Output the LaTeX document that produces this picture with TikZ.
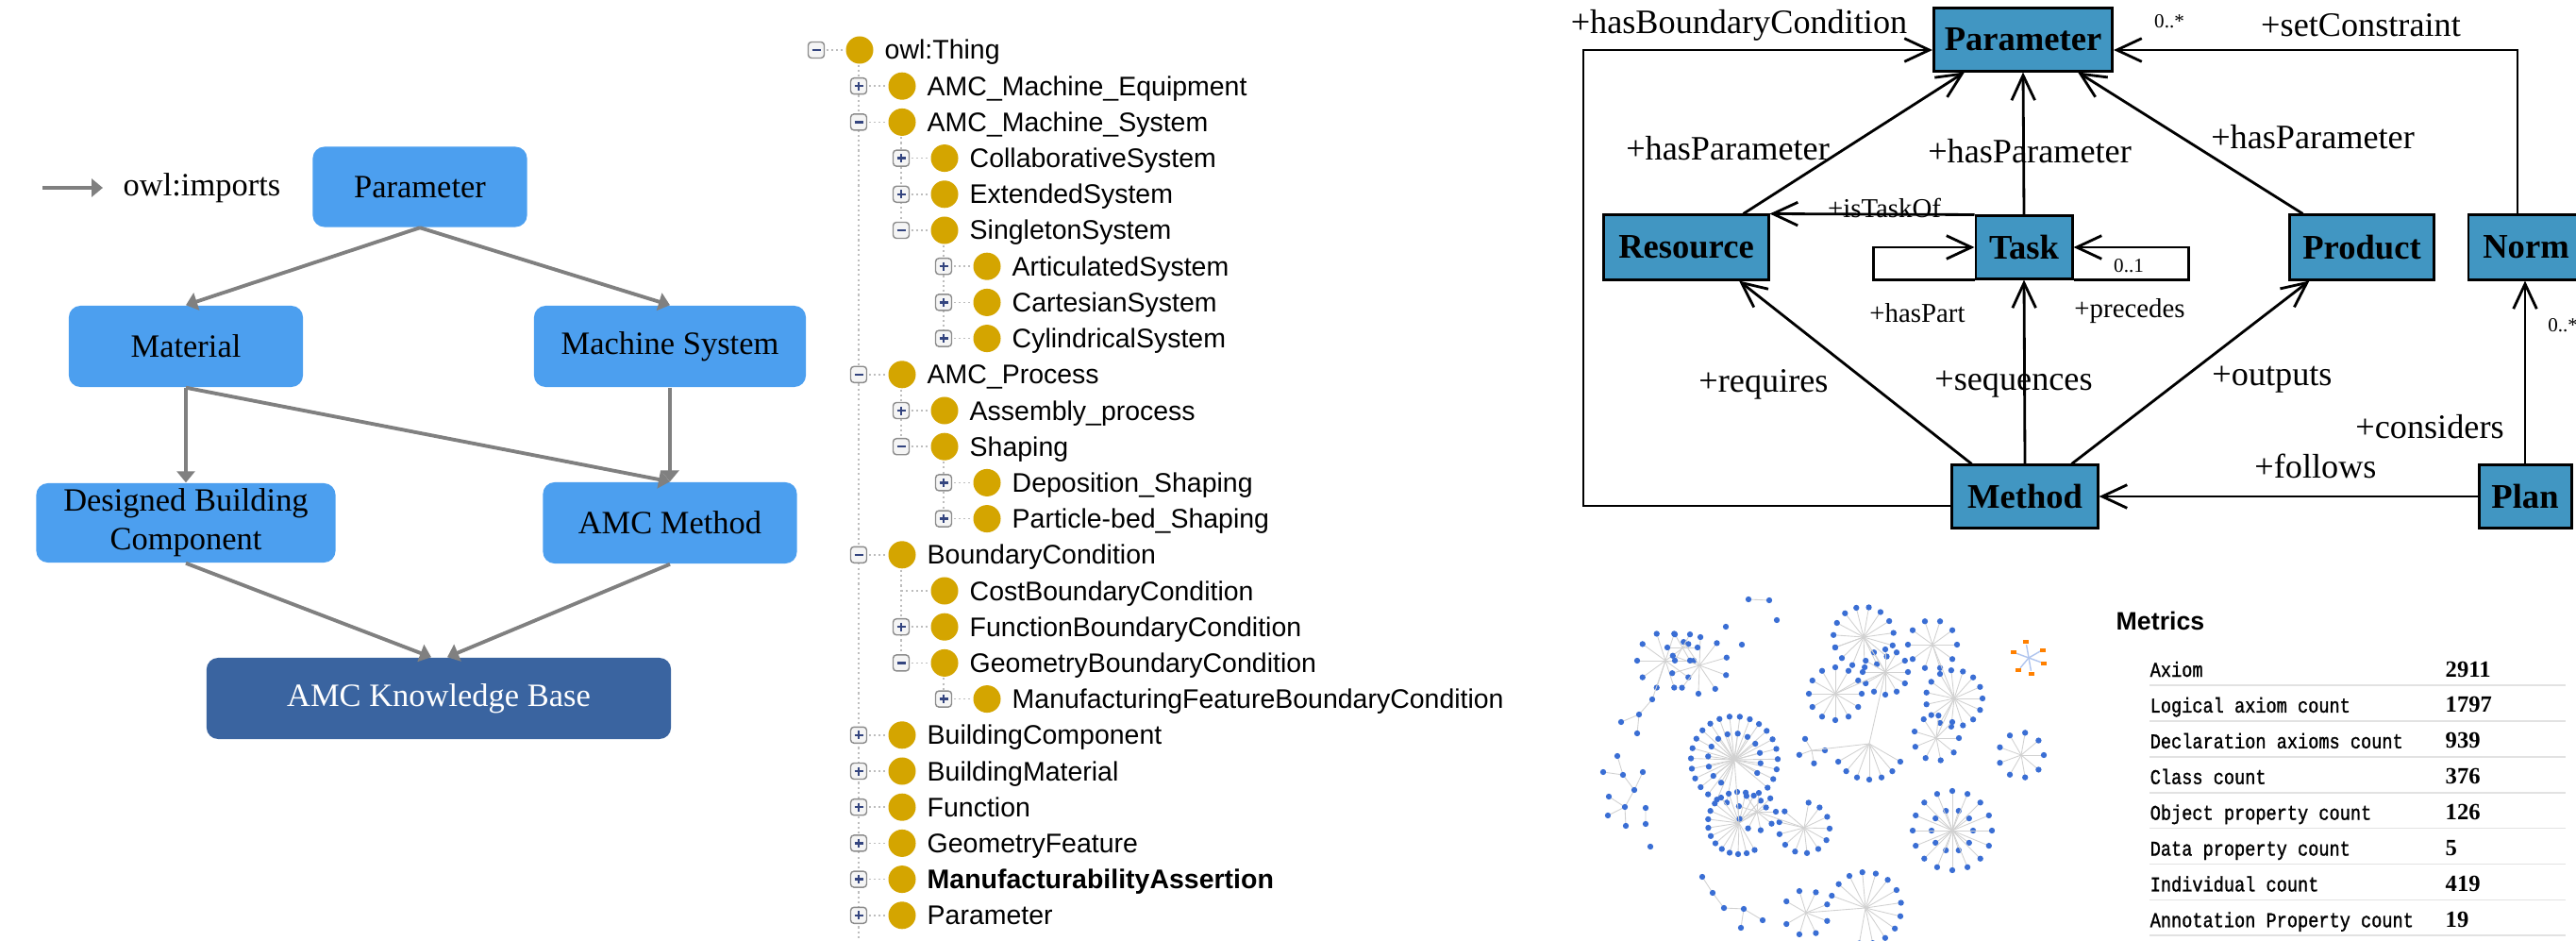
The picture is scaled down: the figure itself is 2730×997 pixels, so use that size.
\documentclass[tikz,border=0pt]{standalone}
\usepackage{fontspec}
\setmainfont{Liberation Serif}
\setsansfont{Liberation Sans}
\newfontfamily\metfont[FakeStretch=0.84,FakeBold=1.2]{Liberation Mono}
\usetikzlibrary{arrows.meta,positioning,calc}
\definecolor{lightbox}{HTML}{4C9FEF}
\definecolor{kbbox}{HTML}{3A64A0}
\definecolor{umlbox}{HTML}{4196C2}
\definecolor{owlgold}{HTML}{D4A500}
\definecolor{dotblue}{HTML}{3A6ED4}
\definecolor{impgray}{HTML}{808080}
\definecolor{treegray}{HTML}{BDBDBD}
\definecolor{signblue}{HTML}{34457F}
\definecolor{sepgray}{HTML}{E2E2E2}

\begin{document}
\begin{tikzpicture}[x=0.01cm, y=-0.01cm,
  lbox/.style={fill=lightbox, rounded corners=3.5pt, align=center, inner sep=0pt,
               font=\fontsize{9.8}{11.6}\selectfont},
  imp/.style={-{Triangle[length=3.4pt,width=5.4pt]}, impgray, line width=1.1pt},
  tog/.style={draw=black!45, fill=black!4, rounded corners=1pt, minimum size=0.17cm, inner sep=0pt},
  owl/.style={circle, fill=owlgold, minimum size=0.29cm, inner sep=0pt},
  tlabel/.style={font=\sffamily\fontsize{8.1}{9}\selectfont, inner sep=0pt, anchor=base west},
  tdot/.style={treegray, line width=0.5pt, dash pattern=on 0.6pt off 0.9pt},
  ubox/.style={draw=black, fill=umlbox, line width=0.85pt, inner sep=0pt,
               font=\fontsize{10.4}{12}\selectfont\bfseries},
  uarr/.style={-{Straight Barb[length=7.5pt,width=7pt]}, line width=0.8pt},
  ulab/.style={font=\fontsize{10.3}{12}\selectfont, inner sep=1pt},
  usmall/.style={font=\fontsize{8.2}{10}\selectfont, inner sep=1pt},
  umult/.style={font=\fontsize{6}{7}\selectfont, inner sep=1pt},
  gedge/.style={draw=black!18, line width=0.25pt},
  mlab/.style={font=\metfont\fontsize{6.3}{7.5}\selectfont, inner sep=0pt, anchor=base west},
  mval/.style={font=\fontsize{7}{8}\selectfont\bfseries, inner sep=0pt, anchor=base west}]

  \useasboundingbox (0,0) rectangle (2730,997);

  % import structure of the knowledge base
  \coordinate (lgA) at (45,199);
  \coordinate (lgB) at (109,199);
  \draw[imp] (lgA) -- (lgB);
  \node[anchor=west, inner sep=0pt, font=\fontsize{9.8}{11.6}\selectfont] (lgT) at (130,199) {owl:imports};

  \node[lbox, minimum width=2.27cm, minimum height=0.85cm] (par) at (445,198) {Parameter};
  \node[lbox, minimum width=2.48cm, minimum height=0.86cm] (mat) at (197,367) {Material};
  \node[lbox, minimum width=2.88cm, minimum height=0.86cm] (msys) at (710,367) {Machine System};
  \node[lbox, minimum width=3.17cm, minimum height=0.84cm] (dbc) at (197,554) {Designed Building\\Component};
  \node[lbox, minimum width=2.69cm, minimum height=0.86cm] (amcm) at (710,554) {AMC Method};
  \node[lbox, fill=kbbox, text=white, minimum width=4.92cm, minimum height=0.86cm] (kb) at (465,740) {AMC Knowledge Base};

  \draw[imp] (par.south) -- (mat.north);
  \draw[imp] (par.south) -- (msys.north);
  \draw[imp] (mat.south) -- (dbc.north);
  \draw[imp] (mat.south) -- (amcm.north);
  \draw[imp] (msys.south) -- (amcm.north);
  \draw[imp] (dbc.south) -- ($(kb.north)+(-8,0)$);
  \draw[imp] (amcm.south) -- ($(kb.north)+(9,0)$);

  % class hierarchy
  \foreach \lv/\a/\b in {1/0/26, 2/2/5, 2/9/11, 2/14/17, 3/5/8, 3/11/13, 3/17/18}
    \draw[tdot] (865+45*\lv, 53+38.2*\a) -- (865+45*\lv, 53+38.2*\b);
  \foreach \i/\lv/\tg/\t in {0/0/2/owl:Thing, 1/1/1/AMC\_Machine\_Equipment,
      2/1/2/AMC\_Machine\_System, 3/2/1/CollaborativeSystem, 4/2/1/ExtendedSystem,
      5/2/2/SingletonSystem, 6/3/1/ArticulatedSystem, 7/3/1/CartesianSystem,
      8/3/1/CylindricalSystem, 9/1/2/AMC\_Process, 10/2/1/Assembly\_process,
      11/2/2/Shaping, 12/3/1/Deposition\_Shaping, 13/3/1/Particle-bed\_Shaping,
      14/1/2/BoundaryCondition, 15/2/0/CostBoundaryCondition,
      16/2/1/FunctionBoundaryCondition, 17/2/2/GeometryBoundaryCondition,
      18/3/1/ManufacturingFeatureBoundaryCondition, 19/1/1/BuildingComponent,
      20/1/1/BuildingMaterial, 21/1/1/Function, 22/1/1/GeometryFeature,
      23/1/1/{\bfseries ManufacturabilityAssertion}, 24/1/1/Parameter} {
    \pgfmathsetmacro\ty{53+38.2*\i}
    \pgfmathsetmacro\tx{865+45*\lv}
    \draw[tdot] (\tx,\ty) -- (\tx+32,\ty);
    \ifnum\tg>0
      \node[tog] (t\i) at (\tx,\ty) {};
      \draw[signblue, line width=0.7pt] (t\i.center) ++(-4.5,0) -- ++(9,0);
    \fi
    \ifnum\tg=1
      \draw[signblue, line width=0.7pt] (t\i.center) ++(0,-4.5) -- ++(0,9);
    \fi
    \node[owl] (c\i) at (\tx+46,\ty) {};
    \node[tlabel] (l\i) at (\tx+72,\ty+10) {\t};
  }

  % UML model
  \node[ubox, minimum width=1.89cm, minimum height=0.66cm] (upar) at (2144,42) {Parameter};
  \node[ubox, minimum width=1.74cm, minimum height=0.68cm] (ures) at (1787,262) {Resource};
  \node[ubox, minimum width=1.02cm, minimum height=0.66cm] (utask) at (2145,262) {Task};
  \node[ubox, minimum width=1.52cm, minimum height=0.68cm] (uprod) at (2503,262) {Product};
  \node[ubox, minimum width=1.22cm, minimum height=0.68cm] (unorm) at (2677,262) {Norm};
  \node[ubox, minimum width=1.54cm, minimum height=0.66cm] (umeth) at (2146,526) {Method};
  \node[ubox, minimum width=0.98cm, minimum height=0.66cm] (uplan) at (2676,526) {Plan};

  \coordinate (lpA) at (1678,536);
  \coordinate (lpB) at (1678,53);
  \coordinate (rpA) at (2668,53);
  \draw[uarr] (umeth.west |- lpA) -- (lpA) -- (lpB) -- (upar.west |- lpB);
  \draw[uarr] (unorm.north -| rpA) -- (rpA) -- (upar.east |- rpA);
  \draw[uarr] ($(ures.north east)+(-28,0)$) -- ($(upar.south west)+(34,0)$);
  \draw[uarr] (utask.north) -- (upar.south);
  \draw[uarr] ($(uprod.north west)+(15,0)$) -- ($(upar.south east)+(-38,0)$);
  \draw[uarr] (utask.north west) -- (ures.north east);
  \draw[uarr] (utask.south west) -- ++(-107,0) |- (utask.west);
  \draw[uarr] (utask.south east) -- ++(122,0) |- (utask.east);
  \draw[uarr] ($(umeth.north west)+(22,0)$) -- ($(ures.south)+(56,0)$);
  \draw[uarr] (umeth.north) -- (utask.south);
  \draw[uarr] ($(umeth.north east)+(-29,0)$) -- ($(uprod.south west)+(22,0)$);
  \draw[uarr] (uplan.north) -- (uplan.north |- unorm.south);
  \draw[uarr] (uplan.west) -- (umeth.east);

  \node[ulab] (hbc) at (1843,27) {+hasBoundaryCondition};
  \node[umult] (m1) at (2299,23) {0..*};
  \node[ulab] (sc) at (2502,27) {+setConstraint};
  \node[ulab] (hp1) at (1831,157) {+hasParameter};
  \node[ulab] (hp2) at (2151,160) {+hasParameter};
  \node[ulab] (hp3) at (2451,145) {+hasParameter};
  \node[usmall] (ito) at (1997,220) {+isTaskOf};
  \node[umult] (m2) at (2256,282) {0..1};
  \node[usmall] (hpt) at (2032,332) {+hasPart};
  \node[usmall] (prc) at (2257,330) {+precedes};
  \node[ulab] (req) at (1869,407) {+requires};
  \node[ulab] (seq) at (2134,407) {+sequences};
  \node[ulab] (out) at (2408,402) {+outputs};
  \node[ulab] (cons) at (2575,452) {+considers};
  \node[ulab] (fol) at (2454,494) {+follows};
  \node[umult, anchor=west] (m3) at (2696,345) {0..*};

  % ontology graph
  \foreach \cx/\cy/\r/\a/\b/\n in {1765/700/30/0/324/9, 1801/705/30/20/344/9, 1783/686/16/0/300/5,
      1838/805/46/100/400/22, 1838/805/28/120/390/12, 1843/872/33/60/330/17,
      1862/860/20/0/315/8, 1912/877/27/-80/220/11,
      1975/675/32/160/520/15, 1998/712/24/0/330/11, 1945/735/28/0/330/11,
      1981/788/38/30/150/6, 1920/795/14/0/240/3,
      2048/683/26/0/324/9, 2071/740/30/0/336/14, 2052/782/24/0/315/8,
      2142/800/24/0/320/8, 2069/880/22/0/324/9, 2069/880/42/0/337.5/15,
      1977/962/38/-160/100/12, 1914/967/24/-150/150/7} {
    \foreach \k in {0,...,\n} {
      \draw[gedge] (\cx,\cy) -- ++({\a+(\b-\a)*\k/\n}:\r);
      \fill[dotblue] (\cx,\cy) ++({\a+(\b-\a)*\k/\n}:\r) circle[radius=0.9pt];
    }
  }
  \draw[gedge] (1765,700) -- (1751,741) -- (1737,757) -- (1718,765) (1737,757) -- (1735,777);
  \draw[gedge] (1714,801) -- (1720,821) -- (1732,837) -- (1722,855) -- (1723,875)
    (1699,818) -- (1720,821) (1741,818) -- (1732,837) (1705,844) -- (1722,855) -- (1704,864)
    (1744,873) -- (1744,856);
  \draw[gedge] (1853,635) -- (1875,636);
  \draw[gedge] (1804,929) -- (1815,946) -- (1827,962) -- (1848,963) -- (1845,983) (1848,963) -- (1868,975);
  \draw[gedge] (1975,675) -- (1998,712) -- (1945,735) (1998,712) -- (1981,788) -- (1920,795);
  \draw[gedge] (2048,683) -- (2071,740) -- (2052,782) (1838,805) -- (1843,872) -- (1862,860) -- (1912,877);
  \draw[gedge] (1977,962) -- (1914,967);
  \foreach \p in {(1751,741), (1737,757), (1718,765), (1735,777), (1714,801), (1699,818), (1720,821),
      (1741,818), (1732,837), (1705,844), (1722,855), (1704,864), (1723,875), (1744,873),
      (1744,856), (1749,897), (1853,635), (1875,636), (1883,657), (1829,664), (1846,683),
      (1804,929), (1815,946), (1827,962), (1848,963), (1845,983), (1868,975)}
    \fill[dotblue] \p circle[radius=0.9pt];
  \foreach \a in {-100,-30,20,80,130,200}
    \draw[dotblue!40] (2150,697) -- ++(\a:14);
  \foreach \a in {-100,-30,20,80,130,200}
    \fill[orange] (2150,697) ++(\a:17) ++(-3,-2) rectangle ++(6,4);

  % ontology metrics
  \node[font=\sffamily\bfseries\fontsize{7.6}{9}\selectfont, inner sep=0pt, anchor=base west] (mtit) at (2242,667) {Metrics};
  \foreach \k/\lab/\val in {0/Axiom/2911, 1/Logical axiom count/1797,
      2/Declaration axioms count/939, 3/Class count/376, 4/Object property count/126,
      5/Data property count/5, 6/Individual count/419, 7/Annotation Property count/19} {
    \pgfmathsetmacro\my{710+37.9*\k}
    \node[mlab] (ml\k) at (2278,\my+7) {\lab};
    \node[mval] (mv\k) at (2591,\my+7) {\val};
    \draw[sepgray, line width=0.5pt] (2278,\my+16) -- (2719,\my+16);
  }
\end{tikzpicture}
\end{document}
